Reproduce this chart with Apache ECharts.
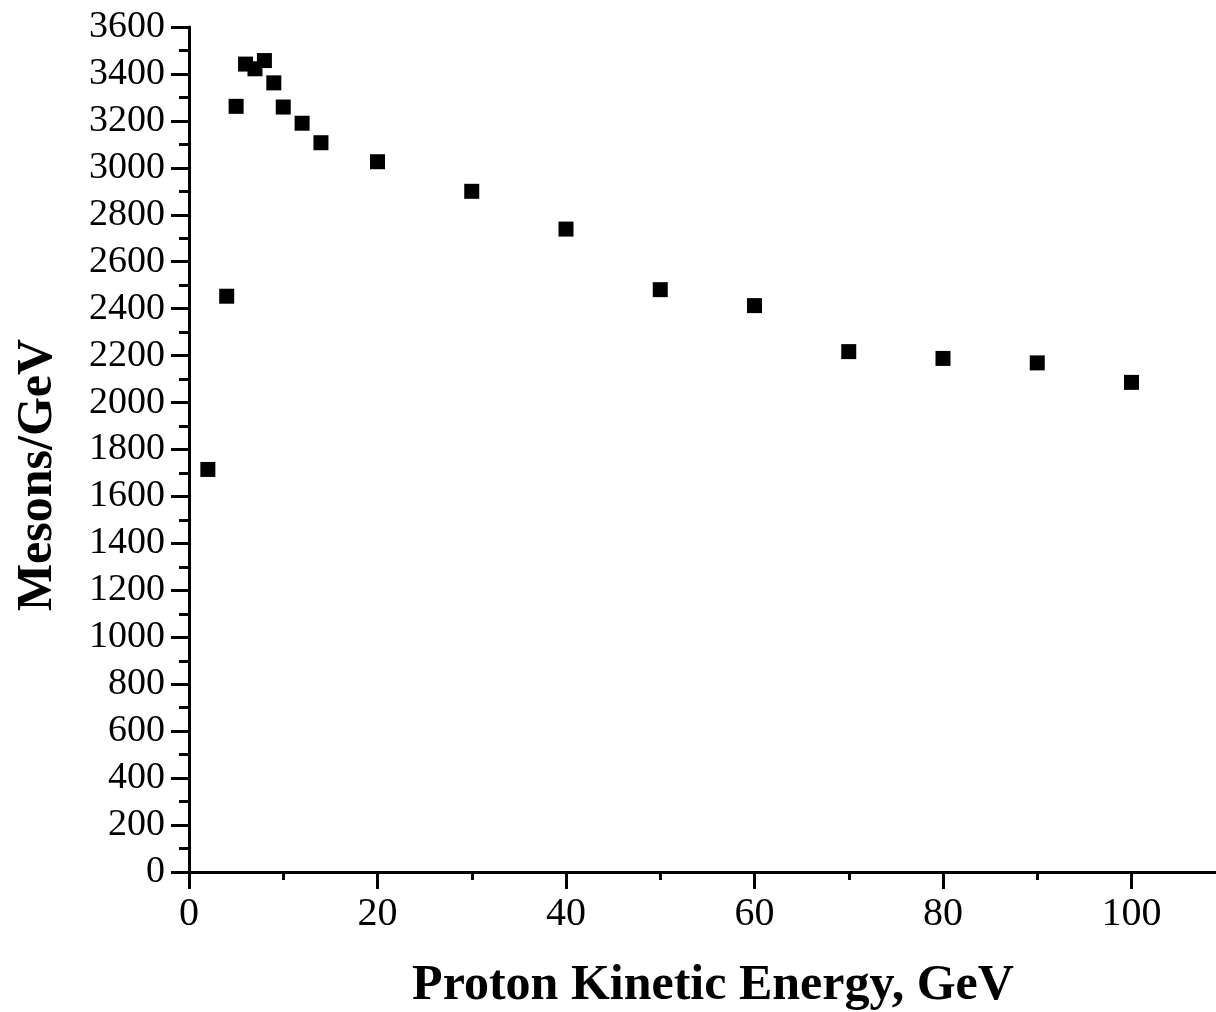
<!DOCTYPE html>
<html>
<head>
<meta charset="utf-8">
<script src="https://cdn.jsdelivr.net/npm/echarts@6/dist/echarts.min.js"></script>
<style>
  html, body { margin: 0; padding: 0; background: #fff; }
  #chart { width: 1216px; height: 1012px; }
</style>
</head>
<body>
<div id="chart"></div>
<script>
// Proton kinetic energy (GeV) and meson yield per GeV
const energies = [2, 4, 5, 6, 7, 8, 9, 10, 12, 14, 20, 30, 40, 50, 60, 70, 80, 90, 100];
const mesons   = [1715, 2453, 3262, 3442, 3422, 3457, 3362, 3259, 3190, 3107, 3026, 2900, 2739, 2481, 2413, 2217, 2188, 2169, 2086];

const xTitle = 'Proton Kinetic Energy, GeV';
const yTitle = 'Mesons/GeV';

const serif = '"Liberation Serif", "Times New Roman", serif';
const points = energies.map((e, i) => [e, mesons[i]]);
const plain = v => String(v);

const chart = echarts.init(document.getElementById('chart'), null, { renderer: 'canvas' });

const blackLine = { color: '#000', width: 3 };

chart.setOption({
  backgroundColor: '#fff',
  animation: false,
  grid: { left: 189, top: 27, bottom: 140, right: -104, outerBoundsMode: 'none', containLabel: false },
  xAxis: {
    type: 'value',
    min: 0,
    max: 120,
    interval: 20,
    axisLine: { onZero: false, lineStyle: blackLine },
    axisTick: { length: 17, lineStyle: blackLine },
    minorTick: { show: true, splitNumber: 2, length: 8, lineStyle: blackLine },
    splitLine: { show: false },
    axisLabel: { color: '#000', fontFamily: serif, fontSize: 40, margin: 22, formatter: plain }
  },
  yAxis: {
    type: 'value',
    min: 0,
    max: 3600,
    interval: 200,
    axisLine: { show: true, onZero: false, lineStyle: blackLine },
    axisTick: { show: true, length: 18, lineStyle: blackLine },
    minorTick: { show: true, splitNumber: 2, length: 10, lineStyle: blackLine },
    splitLine: { show: false },
    axisLabel: { color: '#000', fontFamily: serif, fontSize: 38, margin: 24, formatter: plain }
  },
  graphic: [
    {
      type: 'text',
      x: 713,
      y: 986,
      style: {
        text: xTitle,
        font: 'bold 50px ' + serif,
        fill: '#000',
        textAlign: 'center',
        textVerticalAlign: 'middle'
      }
    },
    {
      type: 'text',
      x: 38,
      y: 475,
      rotation: Math.PI / 2,
      style: {
        text: yTitle,
        font: 'bold 50px ' + serif,
        fill: '#000',
        textAlign: 'center',
        textVerticalAlign: 'middle'
      }
    }
  ],
  series: [{
    type: 'scatter',
    data: points,
    symbol: 'rect',
    symbolSize: 15,
    itemStyle: { color: '#000', opacity: 1 }
  }]
});
</script>
</body>
</html>
